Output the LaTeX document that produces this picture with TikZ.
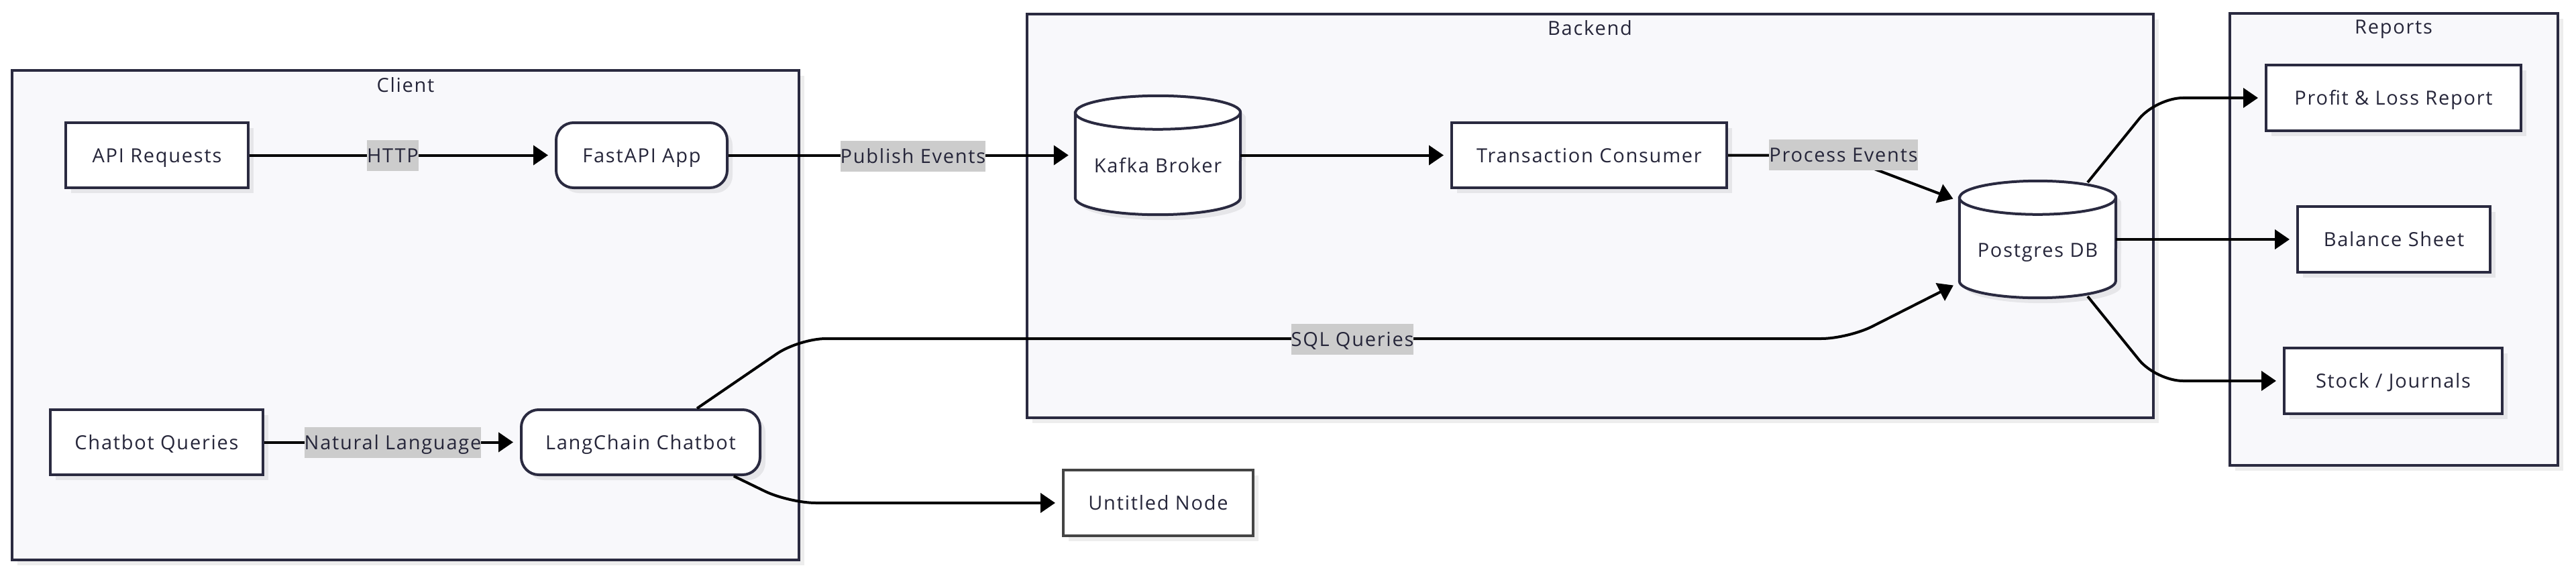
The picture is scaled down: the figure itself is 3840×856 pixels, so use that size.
\documentclass[tikz,border=0pt]{standalone}
\usepackage{fontspec}
\setmainfont{Open Sans}[LetterSpace=6]
\usetikzlibrary{arrows.meta,shadows,calc}
\definecolor{clfill}{HTML}{F8F8FB}
\definecolor{bord}{HTML}{2A2A40}
\definecolor{txtc}{HTML}{26263A}
\definecolor{lblbg}{HTML}{CCCCCC}
\definecolor{ungray}{HTML}{444444}
\newcommand\mytxt{\fontsize{29pt}{35pt}\selectfont}
\newcommand\drawcyl[3]{%
  \path[cyl] ($(#1.north west)+(0,#3)$) -- ($(#1.south west)+(0,-#3)$)
    arc[start angle=180,end angle=360,x radius=#2pt,y radius=#3pt]
    -- ($(#1.north east)+(0,#3)$)
    arc[start angle=0,end angle=180,x radius=#2pt,y radius=#3pt] -- cycle;
  \draw[draw=bord,line width=4pt] ($(#1.north west)+(0,#3)$)
    arc[start angle=180,end angle=360,x radius=#2pt,y radius=#3pt];
}
\tikzset{
  shad/.style={drop shadow={shadow xshift=8pt,shadow yshift=-8pt,fill=black,opacity=0.07}},
  cluster/.style={draw=bord,line width=4pt,fill=clfill,shad,inner sep=0},
  cltitle/.style={text=txtc,font=\mytxt,inner sep=0,text height=21pt,text depth=0pt},
  box/.style={draw=bord,line width=4pt,fill=white,shad,text=txtc,font=\mytxt,
    inner sep=0,minimum height=97pt,text height=21pt,text depth=0pt},
  rbox/.style={box,rounded corners=26pt},
  cylbox/.style={draw=none,inner sep=0},
  cyl/.style={draw=bord,line width=4pt,fill=white,shad},
  cyltext/.style={text=txtc,font=\mytxt,inner sep=0,text height=21pt,text depth=0pt},
  conn/.style={draw=black,line width=4pt,-{Triangle[length=22pt,width=29pt]},shorten >=10pt},
  rconn/.style={conn,rounded corners=40pt},
  elabel/.style={fill=lblbg,text=txtc,font=\mytxt,inner xsep=0pt,inner ysep=0pt,
    minimum height=46pt,text height=21pt,text depth=0pt},
}
\begin{document}
\begin{tikzpicture}[x=1pt,y=-1pt]
\useasboundingbox (0,0) rectangle (3840,856);
\fill[white] (0,0) rectangle (3840,856);
% clusters
\node[cluster,minimum width=1173pt,minimum height=730pt] (client) at (604.5,470) {};
\node[cluster,minimum width=1679pt,minimum height=602pt] (backend) at (2370.3,322.2) {};
\node[cluster,minimum width=489pt,minimum height=674pt] (reports) at (3568.5,356.8) {};
\node[cltitle] (clientT) at (604.5,127) {Client};
\node[cltitle] (backendT) at (2370,42) {Backend};
\node[cltitle] (reportsT) at (3568,40.5) {Reports};
% nodes
\node[box,minimum width=272pt] (api) at (234,231.5) {API Requests};
\node[rbox,minimum width=255pt] (fastapi) at (956.5,231.5) {FastAPI App};
\node[cylbox,minimum width=246pt,minimum height=177pt] (kafka) at (1726,231.5) {};
\drawcyl{kafka}{123}{25}
\node[cyltext] (kafkaT) at (1726,247) {Kafka Broker};
\node[box,minimum width=410pt] (tc) at (2369,231.5) {Transaction Consumer};
\node[cylbox,minimum width=233pt,minimum height=174pt] (pg) at (3037.5,357) {};
\drawcyl{pg}{116.5}{25}
\node[cyltext] (pgT) at (3037.5,373) {Postgres DB};
\node[box,minimum width=380pt,minimum height=98pt] (pl) at (3568,146) {Profit \& Loss Report};
\node[box,minimum width=287pt,minimum height=98pt] (bs) at (3568.5,357) {Balance Sheet};
\node[box,minimum width=325pt,minimum height=98pt] (sj) at (3567.5,568) {Stock / Journals};
\node[box,minimum width=317pt] (cq) at (233.5,659.5) {Chatbot Queries};
\node[rbox,minimum width=356pt] (lc) at (955,659.5) {LangChain Chatbot};
\node[box,draw=ungray,minimum width=283pt,minimum height=98pt] (un) at (1726.5,750) {Untitled Node};
% connectors
\draw[conn] (api.east) -- (fastapi.west);
\draw[conn] (fastapi.east) -- (kafka.west);
\draw[conn] (kafka.east) -- (tc.west);
\draw[rconn] (tc.east) -- (2740,231.5) -- ($(pg.west)+(0,-57)$);
\draw[conn] (cq.east) -- (lc.west);
\draw[rconn] (lc.31) -- (1191,505) -- (2755,505) -- ($(pg.west)+(0,64)$);
\draw[rconn] (lc.-20) -- (1176,750) -- (un.west);
\draw[rconn] ($(pg.center)+(74.5,-85)$) -- (3214,146) -- (pl.west);
\draw[conn] (pg.east) -- (bs.west);
\draw[rconn] ($(pg.center)+(74.5,85)$) -- (3214,568) -- (sj.west);
% edge labels
\node[elabel] (lhttp) at (585.5,231.5) {HTTP};
\node[elabel] (lpub) at (1361,232.5) {Publish Events};
\node[elabel] (lproc) at (2748,231) {Process Events};
\node[elabel] (lnat) at (585.5,660) {Natural Language};
\node[elabel] (lsql) at (2016,506) {SQL Queries};
\end{tikzpicture}
\end{document}
